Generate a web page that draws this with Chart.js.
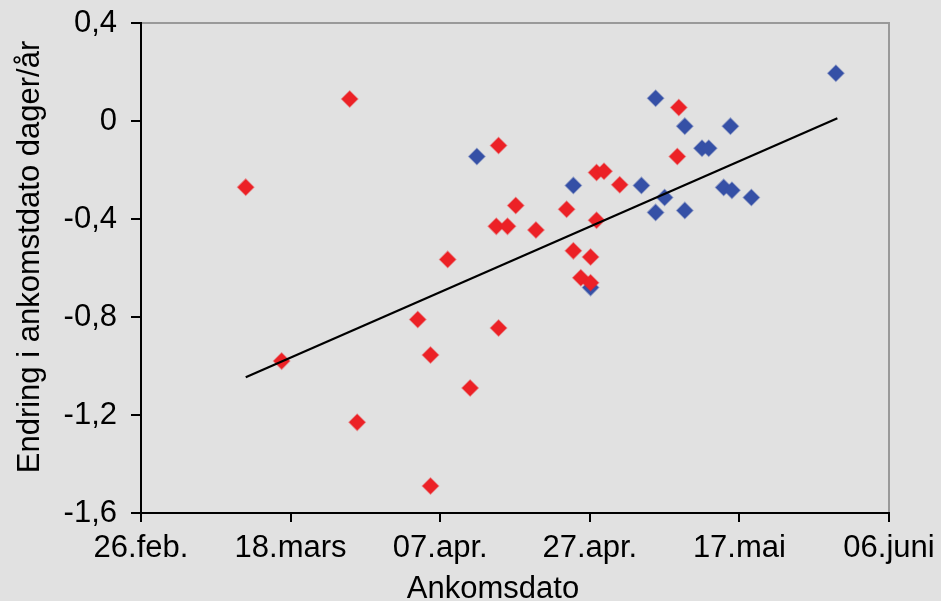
<!DOCTYPE html>
<html>
<head>
<meta charset="utf-8">
<script src="https://cdn.jsdelivr.net/npm/chart.js@4/dist/chart.umd.min.js"></script>
<style>
  html, body { margin: 0; padding: 0; background: #e1e1e1; }
  #wrap { width: 941px; height: 601px; position: relative; }
</style>
</head>
<body>
<div id="wrap"><canvas id="c" width="941" height="601"></canvas></div>
<script>
// Days counted from 26 Feb (day 0)
const xTickLabels = ['26.feb.', '18.mars', '07.apr.', '27.apr.', '17.mai', '06.juni'];
const xTitle = 'Ankomsdato';
const yTitle = 'Endring i ankomstdato dager/år';

const redDays   = [14.0, 18.8, 27.9, 28.9, 37.0, 38.7, 38.7, 41.0, 44.0, 47.8, 47.8, 47.5, 49.0, 50.1, 52.8, 56.9, 57.8, 58.8, 60.1, 60.1, 60.9, 60.9, 61.9, 64.0, 71.7, 71.9];
const redValues = [-0.27, -0.98, 0.09, -1.23, -0.81, -1.49, -0.955, -0.565, -1.09, -0.10, -0.845, -0.43, -0.43, -0.345, -0.445, -0.36, -0.53, -0.64, -0.555, -0.66, -0.405, -0.21, -0.205, -0.26, -0.145, 0.055];

const blueDays   = [44.9, 57.8, 60.1, 66.9, 68.8, 68.8, 70.0, 72.7, 72.7, 75.0, 75.9, 77.9, 79.0, 78.8, 81.6, 92.9];
const blueValues = [-0.145, -0.263, -0.68, -0.263, 0.093, -0.373, -0.312, -0.021, -0.365, -0.111, -0.111, -0.271, -0.283, -0.021, -0.312, 0.195];

const trendDays   = [14.0, 93.1];
const trendValues = [-1.046, 0.011];

const toPts = (xs, ys) => xs.map((x, i) => ({ x: x, y: ys[i] }));

const FONT = { family: '"Liberation Sans", Arial, sans-serif', size: 31 };

const bgPlugin = {
  id: 'bg',
  beforeDraw(chart) {
    const ctx = chart.ctx;
    ctx.save();
    ctx.fillStyle = '#e1e1e1';
    ctx.fillRect(0, 0, chart.width, chart.height);
    const a = chart.chartArea;
    ctx.strokeStyle = '#999999';
    ctx.lineWidth = 2;
    ctx.beginPath();
    ctx.moveTo(a.left, a.top);
    ctx.lineTo(a.right, a.top);
    ctx.lineTo(a.right, a.bottom);
    ctx.stroke();
    ctx.restore();
  },
  afterDraw(chart) {
    const ctx = chart.ctx;
    ctx.save();
    ctx.fillStyle = '#000';
    ctx.font = FONT.size + 'px ' + FONT.family;
    ctx.textAlign = 'center';
    ctx.textBaseline = 'alphabetic';
    ctx.fillText(xTitle, 493, 598);
    ctx.translate(39, 257);
    ctx.rotate(-Math.PI / 2);
    ctx.fillText(yTitle, 0, 0);
    ctx.restore();
  }
};

new Chart(document.getElementById('c'), {
  type: 'scatter',
  data: {
    datasets: [
      {
        type: 'line',
        data: toPts(trendDays, trendValues),
        borderColor: '#000',
        borderWidth: 2.2,
        pointRadius: 0,
        fill: false
      },
      {
        data: toPts(redDays, redValues),
        pointStyle: 'rectRot',
        pointRadius: 8,
        backgroundColor: '#ec2126',
        borderColor: 'rgba(236,33,38,0.45)',
        borderWidth: 1.5
      },
      {
        data: toPts(blueDays, blueValues),
        pointStyle: 'rectRot',
        pointRadius: 8,
        backgroundColor: '#3550a6',
        borderColor: 'rgba(53,80,166,0.45)',
        borderWidth: 1.5
      }
    ]
  },
  options: {
    responsive: false,
    animation: false,
    devicePixelRatio: 1,
    layout: { padding: { left: 0, right: 52, top: 23, bottom: 0 } },
    plugins: { legend: { display: false }, tooltip: { enabled: false } },
    scales: {
      x: {
        type: 'linear',
        min: 0, max: 100,
        afterFit(s) { s.height = 88; s.paddingLeft = 0; s.paddingRight = 0; },
        ticks: {
          stepSize: 20,
          color: '#000',
          font: FONT,
          padding: 8,
          maxRotation: 0,
          autoSkip: false,
          callback: (v) => xTickLabels[Math.round(v / 20)]
        },
        grid: { drawOnChartArea: false, drawTicks: true, tickLength: 9, color: '#000', lineWidth: 2 },
        border: { color: '#000', width: 2 }
      },
      y: {
        min: -1.6, max: 0.4,
        afterFit(s) { s.width = 141; s.paddingTop = 0; s.paddingBottom = 0; },
        ticks: {
          stepSize: 0.4,
          color: '#000',
          font: FONT,
          padding: 14,
          callback: (v) => {
            const r = Math.round(v * 10) / 10;
            return r === 0 ? '0' : r.toFixed(1).replace('.', ',');
          }
        },
        grid: { drawOnChartArea: false, drawTicks: true, tickLength: 10, color: '#000', lineWidth: 2 },
        border: { color: '#000', width: 2 }
      }
    }
  },
  plugins: [bgPlugin]
});
</script>
</body>
</html>
